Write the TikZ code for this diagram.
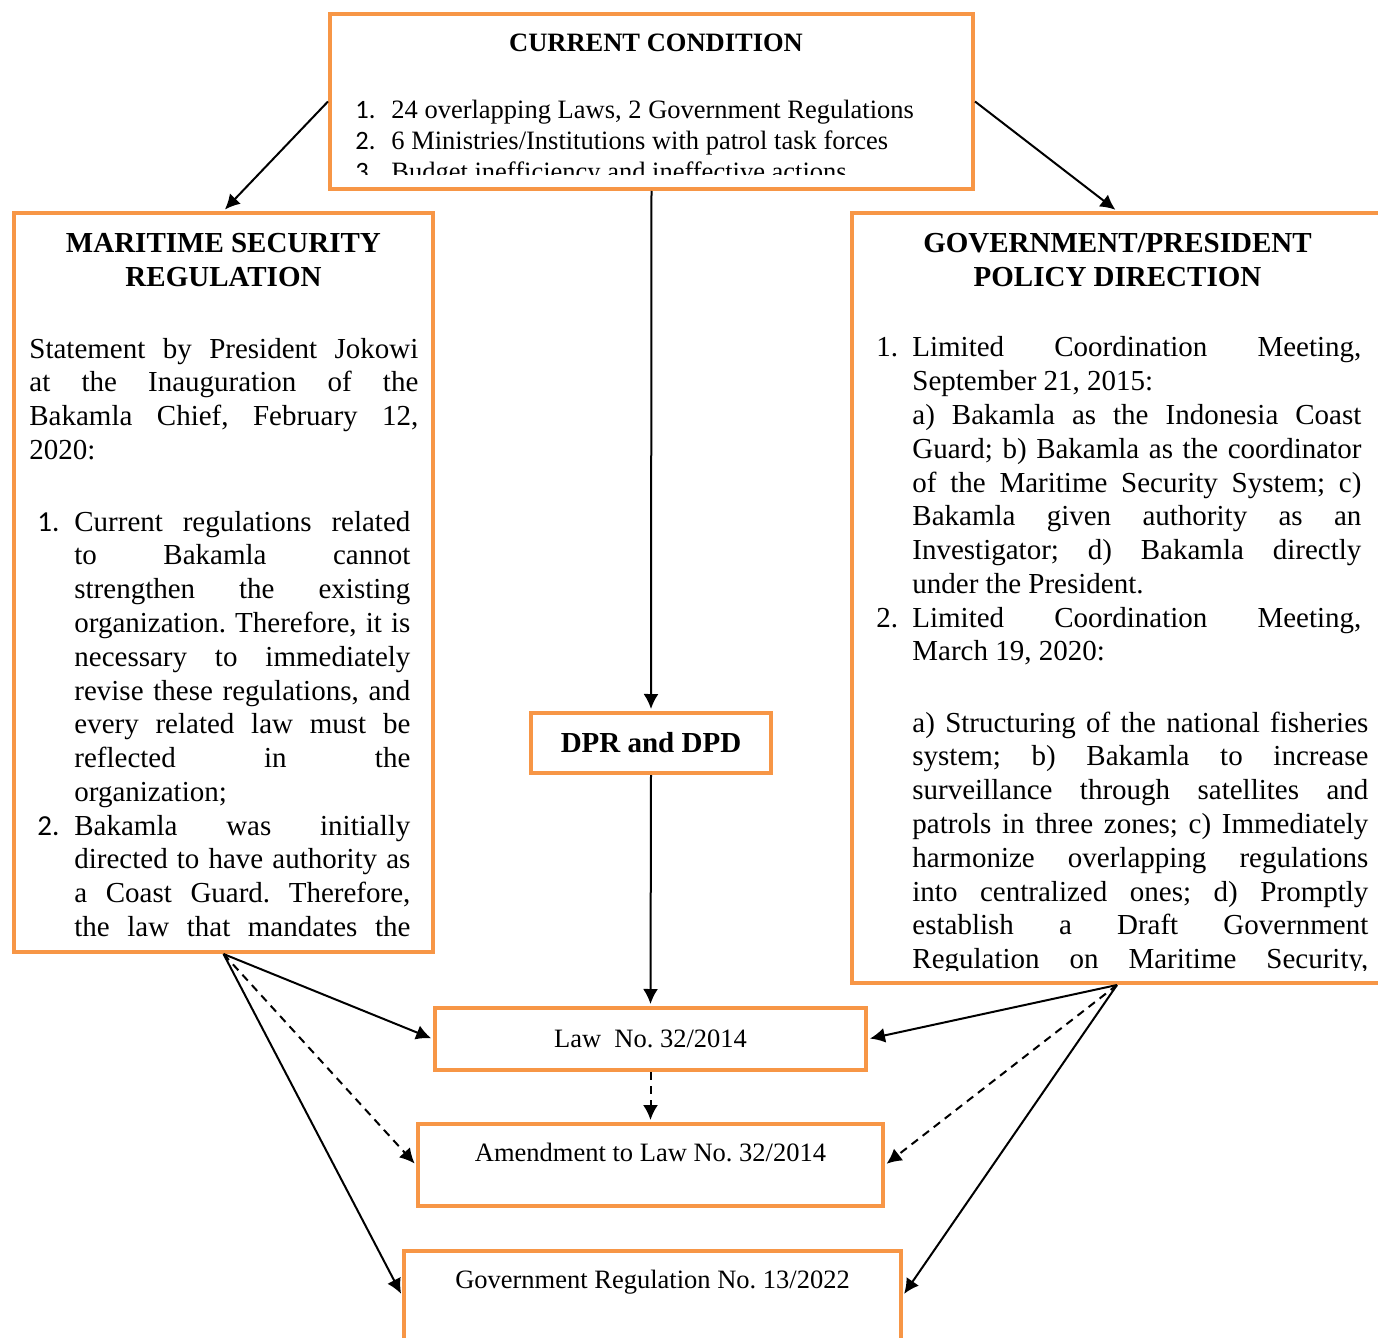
\documentclass[tikz,border=0pt]{standalone}
\usepackage{fontspec}
\setmainfont{Liberation Serif}
\newfontfamily\numfont{Carlito}
\usetikzlibrary{arrows.meta}
\definecolor{boxorange}{HTML}{F79646}
\frenchspacing
\newcommand{\bodyfont}{\fontsize{14.5pt}{16.9pt}\selectfont}
\newcommand{\smallfont}{\fontsize{13.25pt}{15.5pt}\selectfont}
\tikzset{
  obox/.style={draw=boxorange, line width=2pt, inner sep=0pt},
  txt/.style={inner sep=0pt, anchor=base west, font=\bodyfont},
  jtxt/.style={txt, align=justify},
  arr/.style={-{Latex[length=7.5pt,width=7.5pt]}, line width=1pt, shorten >=1pt},
}

\begin{document}
\begin{tikzpicture}[x=0.5pt,y=-0.5pt]
  \useasboundingbox (0,0) rectangle (1378,1338);
  \clip (0,0) rectangle (1378,1338);
  {
    % boxes
    \node[obox, minimum width=321.5pt, minimum height=87.5pt] (cur) at (651.5,101.5) {};%
    \node[obox, minimum width=209.5pt, minimum height=369.5pt] (msr) at (223.5,582.5) {};%
    \node[obox, minimum width=265pt, minimum height=385pt] (gpd) at (1117,598) {};%
    \node[obox, minimum width=120pt, minimum height=30pt, font=\bodyfont\bfseries] (dpr) at (651,743) {DPR and DPD};%
    \node[obox, minimum width=215.5pt, minimum height=31pt, font=\smallfont] (law) at (650.5,1039) {Law\ \ No. 32/2014};%
    \node[obox, minimum width=232.5pt, minimum height=41pt] (amd) at (650.5,1165) {};%
    \node[obox, minimum width=248.5pt, minimum height=44.5pt] (gr) at (652.5,1295.5) {};%
  }
  {
    % current condition
    \node[txt, anchor=base, font=\smallfont\bfseries] (curhead) at (656,52) {CURRENT CONDITION};%
    \begin{scope}
      \clip (332,16) rectangle (971,175);
      \foreach \n/\y/\t in {1/119/{24 overlapping Laws, 2 Government Regulations},
          2/150/{6 Ministries/Institutions with patrol task forces},
          3/181/{Budget inefficiency and ineffective actions}} {
        \node[txt, font=\smallfont\numfont] (curnum\n) at (355,\y) {\n.};%
        \node[txt, font=\smallfont] (curitem\n) at (391,\y) {\t};%
      }
    \end{scope}
  }
  {
    % maritime security regulation
    \node[txt, anchor=base, text width=205pt, align=flush center, font=\bodyfont\bfseries] (msrhead) at (223.5,253)
      {MARITIME SECURITY\\REGULATION};%
    \begin{scope}
      \clip (16,215) rectangle (431,948);
      \node[jtxt, text width=194.5pt] (msrpar) at (29,358)
        {Statement by President Jokowi\linebreak at the Inauguration of the\linebreak
         Bakamla Chief, February 12,\linebreak 2020:};%
      \node[txt, font=\bodyfont\numfont] (msrnum1) at (37,531) {1.};%
      \node[jtxt, text width=168pt] (msritem1) at (74,531)
        {Current regulations related\linebreak to Bakamla cannot\linebreak
         strengthen the existing\linebreak organization. Therefore, it is\linebreak
         necessary to immediately\linebreak revise these regulations, and\linebreak
         every related law must be\linebreak reflected in the\linebreak organization;};%
      \node[txt, font=\bodyfont\numfont] (msrnum2) at (37,835) {2.};%
      \node[jtxt, text width=168pt] (msritem2) at (74,835)
        {Bakamla was initially\linebreak directed to have authority as\linebreak
         a Coast Guard. Therefore,\linebreak the law that mandates the\linebreak};%
    \end{scope}
  }
  {
    % government/president policy direction
    \node[txt, anchor=base, text width=255pt, align=flush center, font=\bodyfont\bfseries] (gpdhead) at (1117.5,253)
      {GOVERNMENT/PRESIDENT\\POLICY DIRECTION};%
    \begin{scope}
      \clip (854,215) rectangle (1378,970);
      \node[txt] (gpdnum1) at (876,357) {1.};%
      \node[jtxt, text width=224.5pt] (gpditem1) at (912,357)
        {Limited Coordination Meeting,\linebreak September 21, 2015:\\
         a) Bakamla as the Indonesia Coast\linebreak Guard; b) Bakamla as the coordinator\linebreak
         of the Maritime Security System; c)\linebreak Bakamla given authority as an\linebreak
         Investigator; d) Bakamla directly\linebreak under the President.};%
      \node[txt] (gpdnum2) at (876,627) {2.};%
      \node[jtxt, text width=224.5pt] (gpditem2) at (912,627)
        {Limited Coordination Meeting,\linebreak March 19, 2020:};%
      \node[jtxt, text width=228pt] (gpdsub) at (912,732)
        {a) Structuring of the national fisheries\linebreak system; b) Bakamla to increase\linebreak
         surveillance through satellites and\linebreak patrols in three zones; c) Immediately\linebreak
         harmonize overlapping regulations\linebreak into centralized ones; d) Promptly\linebreak
         establish a Draft Government\linebreak Regulation on Maritime Security,\linebreak};%
    \end{scope}
  }
  {
    % outputs
    \node[txt, anchor=base, font=\smallfont] (amdtxt) at (650.5,1161) {Amendment to Law No. 32/2014};%
    \node[txt, anchor=base, font=\smallfont] (grtxt) at (652.5,1288) {Government Regulation No. 13/2022};%
  }
  {
    % connectors
    \draw[arr] (cur.west) -- (msr.north);%
    \draw[arr] (cur.east) -- (gpd.north);%
    \draw[arr] (cur.south) -- (dpr.north);%
    \draw[arr] (dpr.south) -- (law.north);%
    \draw[arr] (msr.south) -- (law.west);%
    \draw[arr, dashed, dash pattern=on 4pt off 3pt] (msr.south) -- (amd.west);%
    \draw[arr] (msr.south) -- (gr.west);%
    \draw[arr] (gpd.south) -- (law.east);%
    \draw[arr, dashed, dash pattern=on 4pt off 3pt] (gpd.south) -- (amd.east);%
    \draw[arr] (gpd.south) -- (gr.east);%
    \draw[arr, dashed, dash pattern=on 4pt off 3pt] (law.south) -- (amd.north);%
  }
\end{tikzpicture}
\end{document}
